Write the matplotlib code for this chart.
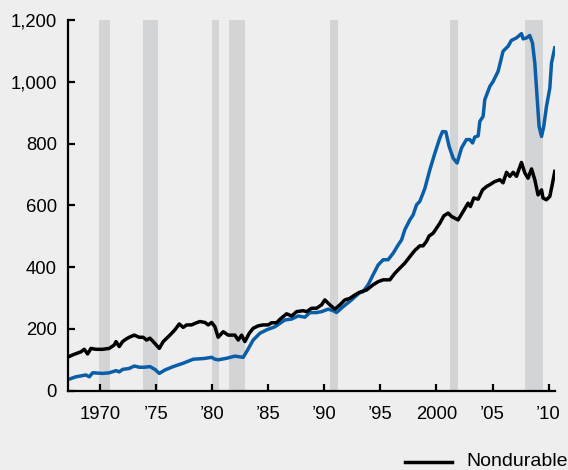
import numpy as np
import matplotlib
matplotlib.use("Agg")
import matplotlib.pyplot as plt
from matplotlib.ticker import FuncFormatter

plt.rcParams['font.family'] = ['Liberation Sans', 'DejaVu Sans']

# Nondurable (black)
nd_year = [1967.21, 1967.57, 1968.31, 1968.60, 1968.90, 1969.20, 1969.64, 1970.24, 1970.83,
           1971.27, 1971.43, 1971.72, 1972.02, 1972.32, 1972.61, 1973.06, 1973.50, 1973.86,
           1974.16, 1974.46, 1974.75, 1975.29, 1975.64, 1976.24, 1976.68, 1977.07, 1977.42,
           1977.73, 1978.17, 1978.47, 1978.91, 1979.36, 1979.65, 1979.96, 1980.25, 1980.54,
           1980.99, 1981.43, 1982.03, 1982.33, 1982.63, 1982.92, 1983.31, 1983.66, 1984.11,
           1984.55, 1985.00, 1985.30, 1985.75, 1986.04, 1986.64, 1987.09, 1987.53, 1988.12,
           1988.42, 1988.87, 1989.31, 1989.76, 1990.05, 1990.50, 1990.94, 1991.39, 1991.84,
           1992.28, 1992.73, 1993.11, 1993.77, 1994.36, 1994.80, 1995.25, 1995.85, 1996.29,
           1996.74, 1997.18, 1997.63, 1998.07, 1998.52, 1998.81, 1999.12, 1999.35, 1999.71,
           2000.30, 2000.66, 2001.04, 2001.35, 2001.93, 2002.38, 2002.82, 2003.03, 2003.33,
           2003.72, 2004.11, 2004.47, 2004.76, 2005.20, 2005.65, 2005.94, 2006.25, 2006.54,
           2006.84, 2007.14, 2007.58, 2007.88, 2008.17, 2008.48, 2008.77, 2009.06, 2009.37,
           2009.50, 2009.80, 2010.11, 2010.35, 2010.55]
nd_val = [110, 116, 126, 134, 119, 137, 134, 134, 137,
          148, 159, 143, 159, 167, 173, 180, 173, 173,
          164, 170, 159, 137, 159, 180, 197, 216, 205,
          213, 213, 218, 224, 221, 213, 221, 207, 173,
          191, 180, 180, 164, 180, 159, 186, 202, 210,
          213, 213, 220, 220, 231, 249, 242, 256, 259,
          256, 267, 267, 278, 294, 278, 264, 278, 294,
          299, 310, 318, 326, 343, 353, 359, 359, 380,
          397, 413, 434, 454, 469, 469, 484, 501, 510,
          542, 566, 575, 564, 553, 580, 607, 596, 624,
          620, 650, 661, 667, 677, 683, 673, 707, 694,
          707, 694, 739, 705, 688, 718, 683, 634, 650,
          624, 618, 629, 672, 710]

# Durable (blue)
d_year = [1967.21, 1967.86, 1968.75, 1969.05, 1969.35, 1970.24, 1970.83, 1971.43, 1971.72,
          1972.02, 1972.61, 1973.06, 1973.50, 1973.95, 1974.46, 1974.90, 1975.29, 1975.79,
          1976.53, 1977.42, 1978.32, 1979.21, 1979.96, 1980.25, 1980.54, 1981.29, 1982.03,
          1982.77, 1983.07, 1983.66, 1984.26, 1984.86, 1985.60, 1986.04, 1986.49, 1987.09,
          1987.67, 1988.27, 1988.72, 1989.31, 1989.76, 1990.35, 1990.79, 1991.09, 1991.68,
          1992.43, 1993.11, 1993.46, 1993.91, 1994.35, 1994.80, 1995.25, 1995.69, 1996.14,
          1996.59, 1996.89, 1997.18, 1997.63, 1997.92, 1998.23, 1998.52, 1998.97, 1999.41,
          1999.86, 2000.30, 2000.54, 2000.84, 2001.13, 2001.49, 2001.84, 2002.24, 2002.67,
          2002.98, 2003.22, 2003.42, 2003.72, 2003.87, 2004.16, 2004.31, 2004.76, 2005.05,
          2005.50, 2005.94, 2006.39, 2006.68, 2007.13, 2007.58, 2007.73, 2008.03, 2008.32,
          2008.56, 2008.77, 2008.97, 2009.15, 2009.37, 2009.57, 2009.81, 2010.11, 2010.26,
          2010.55]
d_val = [37, 45, 51, 45, 58, 56, 58, 65, 61,
         69, 72, 80, 76, 76, 78, 69, 56, 67,
         78, 89, 102, 104, 108, 102, 100, 105, 112,
         108, 126, 164, 186, 197, 207, 218, 229, 232,
         242, 238, 253, 253, 256, 264, 259, 253, 272,
         294, 316, 321, 343, 375, 407, 424, 424, 445,
         472, 488, 521, 553, 569, 602, 613, 655, 715,
         769, 818, 839, 838, 791, 753, 737, 786, 813,
         813, 802, 821, 825, 872, 888, 942, 985, 1001,
         1034, 1099, 1115, 1134, 1142, 1156, 1139, 1142, 1150,
         1126, 1061, 953, 856, 823, 856, 920, 980, 1061,
         1110]

# recessions (start, end)
rec_start = [1969.92, 1973.83, 1980.0, 1981.5, 1990.5, 2001.2, 2007.92]
rec_end = [1970.9, 1975.2, 1980.58, 1982.92, 1991.25, 2001.9, 2009.5]

xticks = [1970, 1975, 1980, 1985, 1990, 1995, 2000, 2005, 2010]
xlabels = ['1970', '\u201975', '\u201980', '\u201985', '\u201990', '\u201995', '2000', '\u201905', '\u201910']

bg = '#eeeeee'
fig = plt.figure(figsize=(5.68, 4.70), dpi=100, facecolor=bg)
ax = fig.add_axes([0.1197, 0.1687, 0.857, 0.7887])
ax.set_facecolor(bg)

for s, e in zip(rec_start, rec_end):
    ax.axvspan(s, e, ymin=0, ymax=1, color='#d3d4d6', lw=0, zorder=1)

ax.plot(d_year, d_val, color='#0a5ea8', lw=2.5, zorder=3, solid_joinstyle='round')
ax.plot(nd_year, nd_val, color='black', lw=2.5, zorder=4, solid_joinstyle='round')

ax.set_xlim(1967.15, 2010.55)
ax.set_ylim(0, 1200)
ax.set_yticks(range(0, 1201, 200))
ax.yaxis.set_major_formatter(FuncFormatter(lambda v, p: f'{int(v):,}'))
ax.set_xticks(xticks)
ax.set_xticklabels(xlabels)

for side in ['top', 'right']:
    ax.spines[side].set_visible(False)
for side in ['left', 'bottom']:
    ax.spines[side].set_linewidth(1.6)
    ax.spines[side].set_zorder(5)

ax.tick_params(axis='both', direction='in', length=5, width=1.6, labelsize=13.3, colors='black')
ax.tick_params(axis='y', pad=8)
ax.tick_params(axis='x', pad=11)

# legend entry at bottom right
fig.lines.append(plt.Line2D([405 / 568, 452 / 568], [1 - 462 / 470, 1 - 462 / 470],
                            color='black', lw=2.5, transform=fig.transFigure))
fig.text(466 / 568, 1 - 462 / 470, 'Nondurable', fontsize=14, va='center', ha='left')

fig.savefig('out.png', dpi=100, facecolor=bg)
